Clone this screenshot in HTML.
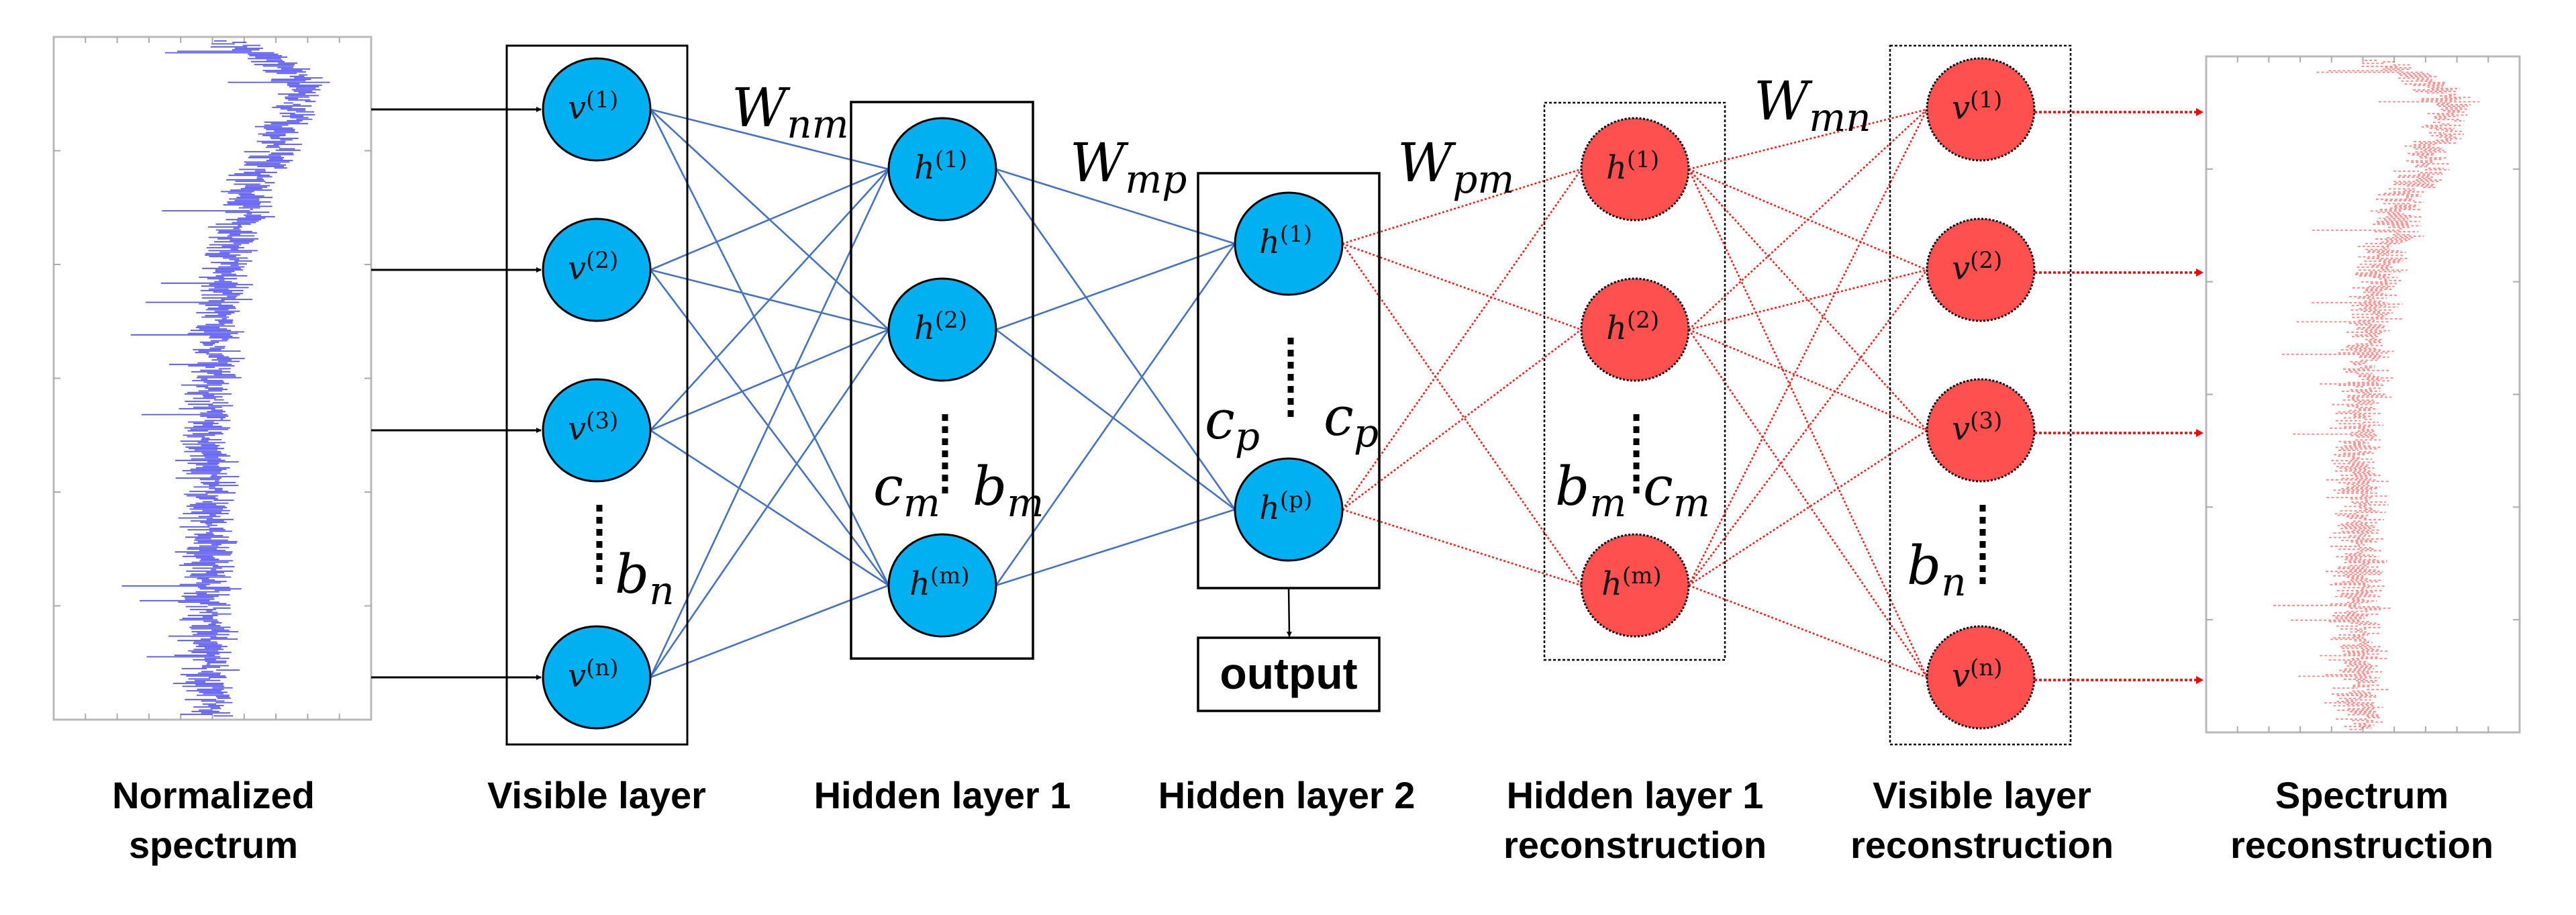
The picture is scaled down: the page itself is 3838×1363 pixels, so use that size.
<!DOCTYPE html>
<html><head><meta charset="utf-8">
<style>
html,body{margin:0;padding:0;background:#fff;}
svg{display:block;}
.m{font-family:"DejaVu Serif","Liberation Serif",serif;font-style:italic;fill:#000;}
.lbl{font-family:"Liberation Sans","DejaVu Sans",sans-serif;font-weight:bold;font-size:56px;fill:#000;text-anchor:middle;}
.nl{font-family:"DejaVu Serif","Liberation Serif",serif;font-style:italic;font-size:48px;fill:#111;}
.sup{font-style:normal;font-size:34px;}
</style></head>
<body>
<svg id="s" width="3838" height="1363" viewBox="0 0 3838 1363" xmlns="http://www.w3.org/2000/svg">
<defs>
<marker id="ab" markerWidth="8" markerHeight="8" refX="7" refY="4" orient="auto" markerUnits="userSpaceOnUse" viewBox="0 0 8 8"><path d="M0,0 L8,4 L0,8 z" fill="#000"/></marker>
</defs>
<g id="spec"></g>
<g id="edges"></g>

<rect x="755" y="68" width="269" height="1041" fill="none" stroke="#000" stroke-width="3"/>
<rect x="1268" y="152" width="271" height="829" fill="none" stroke="#000" stroke-width="3.5"/>
<rect x="1785" y="258" width="270" height="618" fill="none" stroke="#000" stroke-width="3.5"/>
<rect x="1785" y="950" width="270" height="109" fill="none" stroke="#000" stroke-width="3.5"/>
<rect x="2301" y="153" width="269" height="830" fill="none" stroke="#000" stroke-width="2.5" stroke-dasharray="4 3"/>
<rect x="2816" y="68" width="269" height="1041" fill="none" stroke="#000" stroke-width="2.5" stroke-dasharray="4 3"/>

<line x1="1920" y1="876" x2="1921" y2="948" stroke="#000" stroke-width="2.5" marker-end="url(#ab)"/>
<text x="1920" y="1026" text-anchor="middle" style="font-family:'Liberation Sans',sans-serif;font-weight:bold;font-size:66px;">output</text>

<g id="nodes"></g>

<g class="nl">
<text x="846" y="177">v<tspan class="sup" dy="-17">(1)</tspan></text>
<text x="846" y="416">v<tspan class="sup" dy="-17">(2)</tspan></text>
<text x="846" y="655">v<tspan class="sup" dy="-17">(3)</tspan></text>
<text x="846" y="1023">v<tspan class="sup" dy="-17">(n)</tspan></text>
<text x="1362" y="266">h<tspan class="sup" dy="-17">(1)</tspan></text>
<text x="1362" y="505">h<tspan class="sup" dy="-17">(2)</tspan></text>
<text x="1355" y="886">h<tspan class="sup" dy="-17">(m)</tspan></text>
<text x="1876" y="377">h<tspan class="sup" dy="-17">(1)</tspan></text>
<text x="1876" y="773">h<tspan class="sup" dy="-17">(p)</tspan></text>
<text x="2393" y="266">h<tspan class="sup" dy="-17">(1)</tspan></text>
<text x="2393" y="505">h<tspan class="sup" dy="-17">(2)</tspan></text>
<text x="2386" y="886">h<tspan class="sup" dy="-17">(m)</tspan></text>
<text x="2908" y="177">v<tspan class="sup" dy="-17">(1)</tspan></text>
<text x="2908" y="416">v<tspan class="sup" dy="-17">(2)</tspan></text>
<text x="2908" y="655">v<tspan class="sup" dy="-17">(3)</tspan></text>
<text x="2908" y="1023">v<tspan class="sup" dy="-17">(n)</tspan></text>
</g>

<g stroke="#000" stroke-width="9" stroke-dasharray="10 8">
<line x1="893" y1="752" x2="893" y2="874"/>
<line x1="1408" y1="617" x2="1408" y2="743"/>
<line x1="1923" y1="503" x2="1923" y2="626"/>
<line x1="2438" y1="617" x2="2438" y2="743"/>
<line x1="2954" y1="752" x2="2954" y2="874"/>
</g>

<g class="m" font-size="80">
<text x="1090" y="188">W<tspan font-size="58" dy="17">nm</tspan></text>
<text x="1594" y="270">W<tspan font-size="58" dy="17">mp</tspan></text>
<text x="2082" y="270">W<tspan font-size="58" dy="17">pm</tspan></text>
<text x="2613" y="178">W<tspan font-size="58" dy="17">mn</tspan></text>
<text x="916" y="883">b<tspan font-size="58" dy="17">n</tspan></text>
<text x="2841" y="870">b<tspan font-size="58" dy="17">n</tspan></text>
<text x="1301" y="752">c<tspan font-size="58" dy="17">m</tspan></text>
<text x="1449" y="752">b<tspan font-size="58" dy="17">m</tspan></text>
<text x="2317" y="752">b<tspan font-size="58" dy="17">m</tspan></text>
<text x="2448" y="752">c<tspan font-size="58" dy="17">m</tspan></text>
<text x="1795" y="653">c<tspan font-size="58" dy="17">p</tspan></text>
<text x="1972" y="648">c<tspan font-size="58" dy="17">p</tspan></text>
</g>

<text class="lbl" x="318" y="1204">Normalized</text>
<text class="lbl" x="318" y="1278">spectrum</text>
<text class="lbl" x="889" y="1204">Visible layer</text>
<text class="lbl" x="1404" y="1204">Hidden layer 1</text>
<text class="lbl" x="1917" y="1204">Hidden layer 2</text>
<text class="lbl" x="2436" y="1204">Hidden layer 1</text>
<text class="lbl" x="2436" y="1278">reconstruction</text>
<text class="lbl" x="2953" y="1204">Visible layer</text>
<text class="lbl" x="2953" y="1278">reconstruction</text>
<text class="lbl" x="3519" y="1204">Spectrum</text>
<text class="lbl" x="3519" y="1278">reconstruction</text>
</svg>
<script>
(function(){
var NS="http://www.w3.org/2000/svg";
function el(p,t,a){var e=document.createElementNS(NS,t);for(var k in a)e.setAttribute(k,a[k]);p.appendChild(e);return e;}
var E=document.getElementById('edges'),N=document.getElementById('nodes'),S=document.getElementById('spec');
var vis=[163,402,641,1009],h1=[252,491,872],h2=[363,759];
function conn(xa,ya,xb,yb,red){for(var i=0;i<ya.length;i++)for(var j=0;j<yb.length;j++){
 var a={x1:xa,y1:ya[i],x2:xb,y2:yb[j],'stroke-width':2.6};
 if(red){a.stroke='#ff1a1a';a['stroke-dasharray']='3 3';}else a.stroke='#4472C4';
 el(E,'line',a);}}
conn(969,vis,1324,h1,false);
conn(1484,h1,1840,h2,false);
conn(2000,h2,2356,h1,true);
conn(2516,h1,2871,vis,true);
vis.forEach(function(y){el(E,'line',{x1:553,y1:y,x2:806,y2:y,stroke:'#000','stroke-width':3,'marker-end':'url(#ab)'});});
vis.forEach(function(y){el(E,'line',{x1:3031,y1:y+4,x2:3274,y2:y+4,stroke:'#ff0000','stroke-width':3.5,'stroke-dasharray':'4 3'});
 el(E,'path',{d:'M3272,'+(y-2)+' L3283,'+(y+4)+' L3272,'+(y+10)+' z',fill:'#ff0000'});});
function node(cx,cy,red){el(N,'ellipse',{cx:cx,cy:cy,rx:80,ry:76,fill:red?'#FF5050':'#00B0F0',stroke:'#000','stroke-width':3,'stroke-dasharray':red?'3 2.5':'none'});}
vis.forEach(function(y){node(889,y,false);node(2951,y,true);});
h1.forEach(function(y){node(1404,y,false);node(2436,y,true);});
h2.forEach(function(y){node(1920,y,false);});
function rnd(seed){var s=seed;return function(){s=(s*1664525+1013904223)%4294967296;return s/4294967296;};}
var knots=[[0,0.5],[0.03,0.68],[0.07,0.8],[0.15,0.72],[0.3,0.56],[0.5,0.5],[0.7,0.5],[0.85,0.49],[1,0.5]];
function base(t){for(var i=1;i<knots.length;i++){if(t<=knots[i][0]){var a=knots[i-1],b=knots[i];var f=(t-a[0])/(b[0]-a[0]);return a[1]+(b[1]-a[1])*f;}}return 0.5;}
function spectrum(x0,y0,w,h,red){
 el(S,'rect',{x:x0,y:y0,width:w,height:h,fill:'#fff',stroke:'#b8b8b8','stroke-width':3});
 for(var i=1;i<10;i++){var x=x0+w*i/10;el(S,'line',{x1:x,y1:y0,x2:x,y2:y0+9,stroke:'#aaa','stroke-width':2});el(S,'line',{x1:x,y1:y0+h,x2:x,y2:y0+h-9,stroke:'#aaa','stroke-width':2});}
 for(var i=1;i<6;i++){var y=y0+h*i/6;el(S,'line',{x1:x0,y1:y,x2:x0+10,y2:y,stroke:'#aaa','stroke-width':2});el(S,'line',{x1:x0+w,y1:y,x2:x0+w-10,y2:y,stroke:'#aaa','stroke-width':2});}
 var r=rnd(12345),d='';
 for(var y=y0+6;y<y0+h-4;y+=2.2){
  var t=(y-y0)/h,b=base(t)+(r()-0.5)*0.06;
  var L=b-r()*0.09,R=b+r()*0.07;
  if(r()<0.04)L=b-0.12-r()*0.2;
  d+='M'+(x0+w*L).toFixed(1)+','+y.toFixed(1)+'H'+(x0+w*R).toFixed(1);
 }
 var a={d:d,fill:'none','stroke-width':1.8};
 if(red){a.stroke='#ff2020';a['stroke-opacity']=0.55;a['stroke-dasharray']='4 3';}
 else {a.stroke='#1a1aff';a['stroke-opacity']=0.75;}
 el(S,'path',a);
}
spectrum(80,55,473,1017,false);
spectrum(3287,84,467,1007,true);
})();
</script>
</body></html>
